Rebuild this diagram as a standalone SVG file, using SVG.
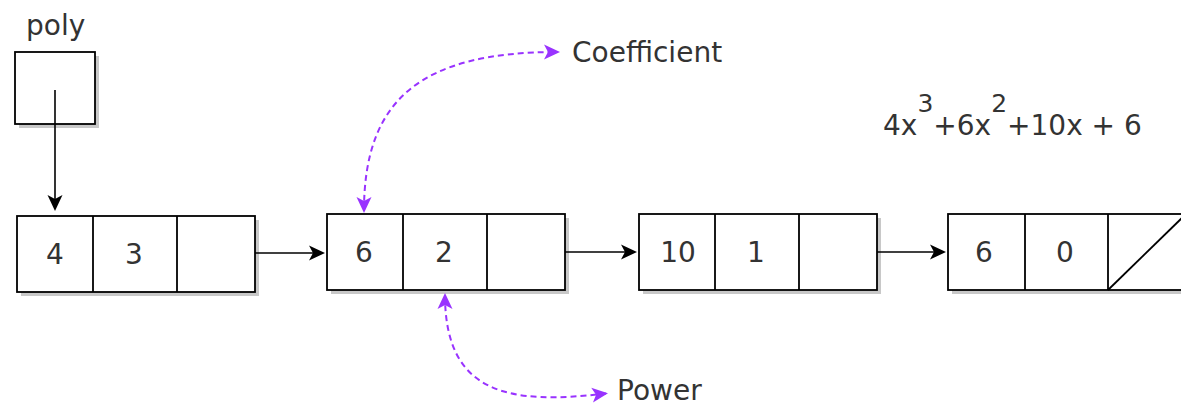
<svg xmlns="http://www.w3.org/2000/svg" width="1181" height="405" viewBox="0 0 1181 405">
<style>
  .box { fill: #ffffff; stroke: #000000; stroke-width: 1.8; }
  .shadow { fill: #c8c8c8; }
  .div { stroke: #000000; stroke-width: 1.8; }
  .t { font-family: "DejaVu Sans", Verdana, sans-serif; font-size: 28px; fill: #333333; }
  .tc { text-anchor: middle; }
  .edge { fill: none; stroke: #000000; stroke-width: 1.6; }
  .pedge { fill: none; stroke: #9933FF; stroke-width: 2; stroke-dasharray: 6 4; }
</style>
<defs>
  <marker id="arr" markerUnits="userSpaceOnUse" viewBox="-18 -9 20 18" markerWidth="20" markerHeight="18" refX="-2" refY="0" orient="auto">
    <path d="M0,0 L-16,-7.5 L-12,0 L-16,7.5 Z" fill="#000000"/>
  </marker>
  <marker id="parr" markerUnits="userSpaceOnUse" viewBox="-18 -9 20 18" markerWidth="20" markerHeight="18" refX="-2" refY="0" orient="auto-start-reverse">
    <path d="M0,0 L-16,-7.5 L-12,0 L-16,7.5 Z" fill="#9933FF"/>
  </marker>
</defs>
<rect width="1181" height="405" fill="#ffffff"/>

<g id="poly">
  <text class="t" x="26" y="35">poly</text>
  <rect class="shadow" x="19" y="56" width="80" height="72"/>
  <rect class="box" x="15" y="52" width="80" height="72"/>
</g>

<g id="node1">
  <rect class="shadow" x="21" y="220" width="238" height="76"/>
  <rect class="box" x="17" y="216" width="238" height="76"/>
  <line class="div" x1="93" y1="216" x2="93" y2="292"/>
  <line class="div" x1="177" y1="216" x2="177" y2="292"/>
  <text class="t tc" x="55" y="264">4</text>
  <text class="t tc" x="134" y="264">3</text>
</g>

<g id="node2">
  <rect class="shadow" x="331" y="218" width="238" height="76"/>
  <rect class="box" x="327" y="214" width="238" height="76"/>
  <line class="div" x1="403" y1="214" x2="403" y2="290"/>
  <line class="div" x1="487" y1="214" x2="487" y2="290"/>
  <text class="t tc" x="364" y="262">6</text>
  <text class="t tc" x="444" y="262">2</text>
</g>

<g id="node3">
  <rect class="shadow" x="643" y="218" width="238" height="76"/>
  <rect class="box" x="639" y="214" width="238" height="76"/>
  <line class="div" x1="715" y1="214" x2="715" y2="290"/>
  <line class="div" x1="799" y1="214" x2="799" y2="290"/>
  <text class="t tc" x="678" y="262">10</text>
  <text class="t tc" x="756" y="262">1</text>
</g>

<g id="node4">
  <rect class="shadow" x="952" y="218" width="240" height="76"/>
  <rect class="box" x="948" y="214" width="240" height="76"/>
  <line class="div" x1="1025" y1="214" x2="1025" y2="290"/>
  <line class="div" x1="1108" y1="214" x2="1108" y2="290"/>
  <line class="div" x1="1108" y1="290" x2="1186" y2="214"/>
  <text class="t tc" x="984" y="262">6</text>
  <text class="t tc" x="1065" y="262">0</text>
</g>

<g id="label-coefficient">
  <text class="t" x="572" y="62">Coefficient</text>
</g>
<g id="label-power">
  <text class="t" x="617" y="400">Power</text>
</g>
<g id="label-polynomial">
  <text class="t" x="883" y="135">4x<tspan font-size="25" dy="-23">3</tspan><tspan dy="23">+6x</tspan><tspan font-size="25" dy="-23">2</tspan><tspan dy="23">+10x + 6</tspan></text>
</g>

<g id="connectors">
  <path class="edge" d="M55,90 L55,209" marker-end="url(#arr)"/>
  <path class="edge" d="M255,253 L323,253" marker-end="url(#arr)"/>
  <path class="edge" d="M565,252 L635,252" marker-end="url(#arr)"/>
  <path class="edge" d="M877,252 L944,252" marker-end="url(#arr)"/>
  <path class="pedge" d="M364,211 C364,100 420,52 558,52" marker-start="url(#parr)" marker-end="url(#parr)"/>
  <path class="pedge" d="M445,295 C445,395 510,405 606,393.5" marker-start="url(#parr)" marker-end="url(#parr)"/>
</g>
</svg>
